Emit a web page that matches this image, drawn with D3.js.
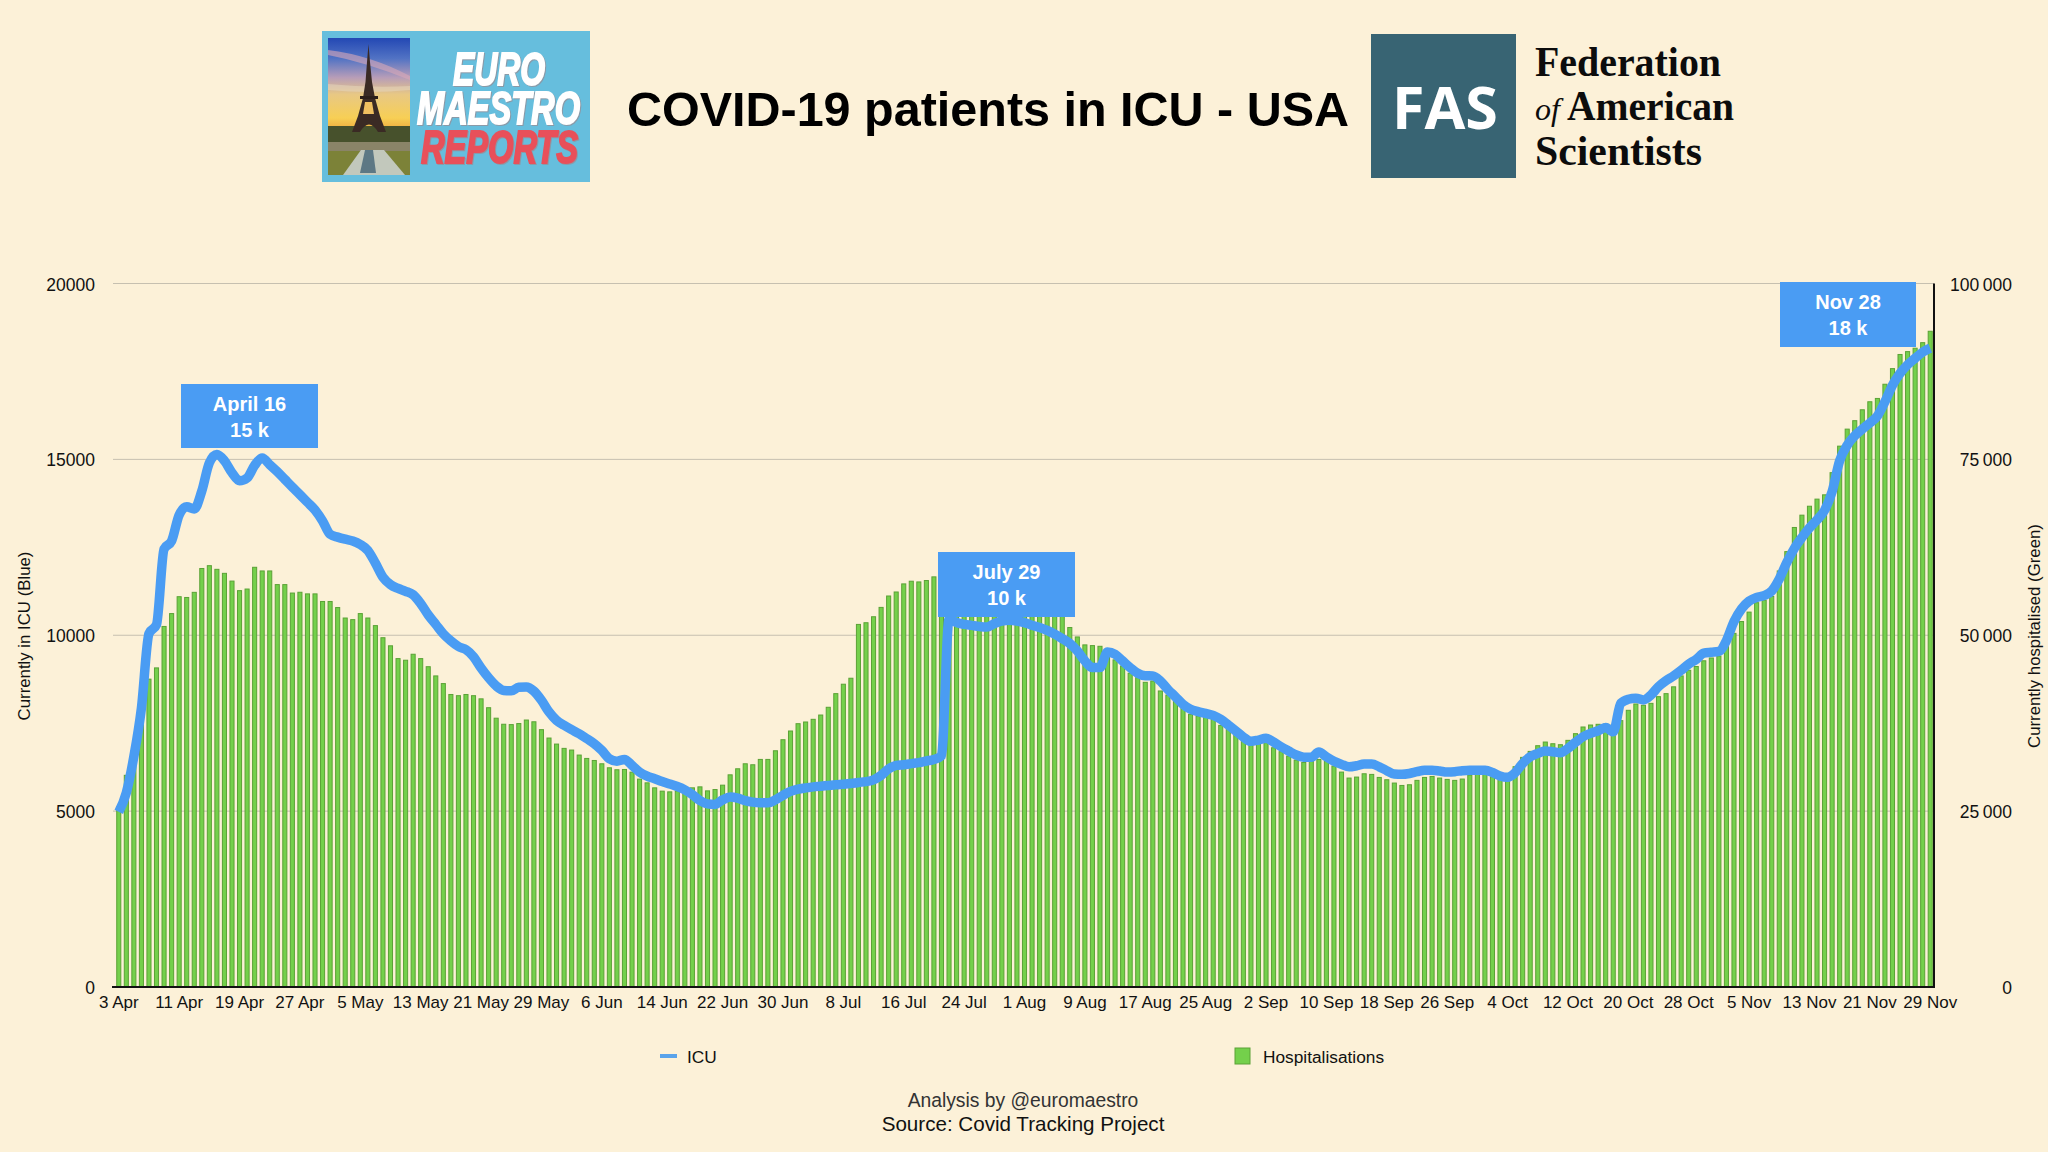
<!DOCTYPE html>
<html>
<head>
<meta charset="utf-8">
<title>COVID-19 patients in ICU - USA</title>
<script src="https://cdn.jsdelivr.net/npm/d3@7"></script>
<style>
  html, body { margin: 0; padding: 0; background: #fcf1d8; }
  svg { display: block; }
  text { font-family: "Liberation Sans", Arial, sans-serif; }
  .axis path, .axis line { display: none; }
  .axis text { font-family: "Liberation Sans", Arial, sans-serif; font-size: 17px; fill: #111; }
  .axis.value text { font-size: 17.5px; }
</style>
</head>
<body>
<div id="chart"></div>
<script>
// one value per day, 3 Apr to 29 Nov
const hospitalisations = [
  25630,30090,34000,39500,43760,45360,51250,53080,55480,55370,
  56100,59490,59890,59370,58800,57700,56340,56570,59660,59140,
  59140,57200,57200,56000,56110,55880,55880,54800,54800,53940,
  52450,52220,53080,52450,51370,49650,48500,46680,46450,47300,
  46680,45530,44220,43130,41580,41410,41580,41410,40960,39700,
  38210,37350,37300,37450,37950,37700,36580,35390,34530,33920,
  33680,32970,32490,32200,31730,31160,30880,30920,30540,29550,
  29020,28310,27840,27740,27840,27930,28310,28450,27880,28070,
  28690,30160,31020,31730,31590,32350,32350,33580,35150,36390,
  37430,37670,38050,38660,39760,41700,43040,43890,51540,51780,
  52630,53960,55580,56150,57300,57680,57580,57780,58300,58600,
  59000,59300,59500,59200,58900,59000,58800,58400,57800,57000,
  56300,55800,55200,54800,54000,53000,51100,49760,48630,48530,
  48430,47000,46500,45640,44600,43980,43310,43500,42080,41500,
  40660,39700,38760,38520,38430,38140,37190,36860,35910,35200,
  34680,34580,34730,34010,33450,32830,32260,31920,32120,32350,
  32160,31400,30550,29700,29840,30310,30220,29790,29460,28990,
  28650,28750,29370,29790,29930,29700,29510,29370,29560,30130,
  30270,30360,29890,29650,29650,31310,32640,33490,34300,34820,
  34580,34440,35060,36010,36960,37240,37340,37380,37240,37860,
  39330,40230,40040,40320,41270,41700,42670,44220,45020,45560,
  46370,46770,47040,48590,50270,51950,53290,54630,54970,55510,
  59140,61890,65320,67070,68340,69350,69960,73110,76880,79300,
  80500,82050,83190,83660,85680,87900,89910,90320,90800,91590,93210
];
const icu = [
  4976,5525,6555,7930,10045,10300,12450,12680,13420,13650,
  13590,14100,14900,15136,14960,14620,14390,14470,14830,15040,
  14850,14650,14430,14210,14000,13780,13560,13250,12870,12790,
  12730,12680,12580,12410,12050,11650,11440,11330,11250,11150,
  10900,10580,10310,10040,9840,9680,9590,9390,9070,8790,
  8560,8430,8420,8520,8530,8410,8150,7820,7580,7440,
  7315,7200,7060,6915,6725,6490,6420,6470,6300,6110,
  5995,5920,5840,5770,5700,5605,5470,5300,5205,5190,
  5320,5400,5370,5300,5255,5235,5235,5320,5450,5560,
  5625,5660,5690,5710,5730,5750,5765,5785,5815,5840,
  5890,6015,6200,6300,6320,6350,6380,6425,6470,6570,
  10456,10360,10310,10280,10250,10235,10330,10405,10425,10405,
  10360,10285,10220,10140,10030,9905,9765,9555,9270,9080,
  9080,9525,9460,9270,9080,8920,8850,8845,8700,8460,
  8250,8035,7895,7830,7780,7720,7610,7450,7280,7105,
  6985,7020,7070,6965,6830,6710,6595,6535,6530,6680,
  6545,6420,6330,6260,6290,6340,6340,6260,6150,6055,
  6045,6070,6120,6165,6165,6140,6110,6120,6150,6165,
  6165,6160,6100,6000,5960,6090,6355,6545,6640,6710,
  6690,6660,6785,6955,7115,7210,7285,7380,7255,8065,
  8180,8210,8160,8300,8540,8710,8845,9005,9180,9315,
  9490,9515,9540,9850,10390,10750,10970,11075,11130,11260,
  11600,12070,12470,12780,13050,13280,13550,14085,14960,15400,
  15670,15860,16035,16235,16640,17110,17445,17690,17875,18050,18160
];
const dateLabels = ["3 Apr","11 Apr","19 Apr","27 Apr","5 May","13 May","21 May","29 May","6 Jun","14 Jun","22 Jun","30 Jun","8 Jul","16 Jul","24 Jul","1 Aug","9 Aug","17 Aug","25 Aug","2 Sep","10 Sep","18 Sep","26 Sep","4 Oct","12 Oct","20 Oct","28 Oct","5 Nov","13 Nov","21 Nov","29 Nov"];
const labelEvery = 8;
const icuTicks = [0, 5000, 10000, 15000, 20000];
const hospTicks = [0, 25000, 50000, 75000, 100000];
const calloutDates = ["April 16", "July 29", "Nov 28"];
const calloutValues = ["15 k", "10 k", "18 k"];

const width = 2048, height = 1152;
const margin = { top: 283.5, right: 114, bottom: 165, left: 115 };
const blue = "#4a9cf3", green = "#74d04b", greenEdge = "#5ba236";

const svg = d3.select("#chart").append("svg")
    .attr("width", width)
    .attr("height", height);

svg.append("rect").attr("width", width).attr("height", height).attr("fill", "#fcf1d8");

const days = d3.range(hospitalisations.length);

const x = d3.scaleBand()
    .domain(days)
    .range([margin.left, width - margin.right])
    .paddingInner(0.46)
    .paddingOuter(0.23);

const yIcu = d3.scaleLinear().domain([0, 20000]).range([height - margin.bottom, margin.top]);
const yHosp = d3.scaleLinear().domain([0, 100000]).range([height - margin.bottom, margin.top]);

// Gridlines
svg.append("g").selectAll("line")
    .data(icuTicks.slice(1))
    .enter().append("line")
    .attr("x1", margin.left - 2)
    .attr("x2", width - margin.right)
    .attr("y1", d => yIcu(d))
    .attr("y2", d => yIcu(d))
    .attr("stroke", "#c6c0b0")
    .attr("stroke-width", 1);

// Bars
svg.append("g").selectAll("rect")
    .data(hospitalisations)
    .enter().append("rect")
    .attr("x", (d, i) => x(i))
    .attr("y", d => yHosp(d))
    .attr("width", x.bandwidth())
    .attr("height", d => yHosp(0) - yHosp(d))
    .attr("fill", green)
    .attr("stroke", greenEdge)
    .attr("stroke-width", 1);

// ICU line
const line = d3.line()
    .x((d, i) => x(i) + x.bandwidth() / 2)
    .y(d => yIcu(d))
    .curve(d3.curveMonotoneX);

svg.append("path")
    .datum(icu)
    .attr("d", line)
    .attr("fill", "none")
    .attr("stroke", blue)
    .attr("stroke-width", 9.5)
    .attr("stroke-linejoin", "round");

// Axes
svg.append("g")
    .attr("class", "axis value")
    .attr("transform", `translate(${margin.left - 20},1)`)
    .call(d3.axisLeft(yIcu).tickValues(icuTicks).tickSize(0).tickPadding(0).tickFormat(d3.format("d")));

svg.append("g")
    .attr("class", "axis value")
    .attr("transform", `translate(${width - 36},1)`)
    .call(d3.axisLeft(yHosp).tickValues(hospTicks).tickSize(0).tickPadding(0)
        .tickFormat(d => d3.format(",")(d).replace(",", "\u2009")));

svg.append("g")
    .attr("class", "axis")
    .attr("transform", `translate(0,${height - margin.bottom})`)
    .call(d3.axisBottom(x)
        .tickValues(days.filter(d => d % labelEvery === 0))
        .tickSize(0)
        .tickPadding(9)
        .tickFormat(d => dateLabels[d / labelEvery]));

svg.append("line")
    .attr("x1", margin.left - 3).attr("x2", width - margin.right + 1)
    .attr("y1", yIcu(0)).attr("y2", yIcu(0))
    .attr("stroke", "#111").attr("stroke-width", 2);

svg.append("line")
    .attr("x1", width - margin.right).attr("x2", width - margin.right)
    .attr("y1", margin.top).attr("y2", yIcu(0))
    .attr("stroke", "#111").attr("stroke-width", 2);

// Axis titles
svg.append("text")
    .attr("transform", "translate(30,636) rotate(-90)")
    .attr("text-anchor", "middle")
    .style("font-size", "16.8px")
    .attr("fill", "#111")
    .text("Currently in ICU (Blue)");

svg.append("text")
    .attr("transform", "translate(2040,636) rotate(-90)")
    .attr("text-anchor", "middle")
    .style("font-size", "16.8px")
    .attr("fill", "#111")
    .text("Currently hospitalised (Green)");

// Callouts
const calloutBoxes = [
  { x: 181, y: 384, w: 137, h: 64 },
  { x: 938, y: 552, w: 137, h: 65 },
  { x: 1780, y: 282, w: 136, h: 65 }
];
const callouts = svg.append("g").selectAll("g")
    .data(calloutBoxes)
    .enter().append("g")
    .attr("transform", d => `translate(${d.x},${d.y})`);

callouts.append("rect")
    .attr("width", d => d.w)
    .attr("height", d => d.h)
    .attr("fill", blue);

callouts.append("text")
    .attr("x", d => d.w / 2)
    .attr("y", 27)
    .attr("text-anchor", "middle")
    .attr("fill", "#fff")
    .style("font-size", "20px")
    .style("font-weight", "bold")
    .text((d, i) => calloutDates[i]);

callouts.append("text")
    .attr("x", d => d.w / 2)
    .attr("y", 53)
    .attr("text-anchor", "middle")
    .attr("fill", "#fff")
    .style("font-size", "20px")
    .style("font-weight", "bold")
    .text((d, i) => calloutValues[i]);

// Legend
svg.append("line")
    .attr("x1", 660).attr("x2", 677).attr("y1", 1056).attr("y2", 1056)
    .attr("stroke", "#5aa3ea").attr("stroke-width", 4);
svg.append("text").attr("x", 687).attr("y", 1063)
    .style("font-size", "17.3px").attr("fill", "#111").text("ICU");
svg.append("rect")
    .attr("x", 1235).attr("y", 1048).attr("width", 15).attr("height", 16)
    .attr("fill", green).attr("stroke", greenEdge);
svg.append("text").attr("x", 1263).attr("y", 1063)
    .style("font-size", "17.3px").attr("fill", "#111").text("Hospitalisations");

// Footer
svg.append("text").attr("x", 1023).attr("y", 1107).attr("text-anchor", "middle")
    .style("font-size", "19.3px").attr("fill", "#333").text("Analysis by @euromaestro");
svg.append("text").attr("x", 1023).attr("y", 1131).attr("text-anchor", "middle")
    .style("font-size", "20.6px").attr("fill", "#111").text("Source: Covid Tracking Project");

// Title
svg.append("text").attr("x", 988).attr("y", 126).attr("text-anchor", "middle")
    .style("font-size", "48.5px").style("font-weight", "bold").attr("fill", "#000")
    .text("COVID-19 patients in ICU - USA");

drawEuroLogo();
drawFasLogo();

function drawEuroLogo() {
    const defs = svg.append("defs");
    const sky = defs.append("linearGradient").attr("id", "sky")
        .attr("x1", 0).attr("y1", 0).attr("x2", 0).attr("y2", 1);
    [[0, "#2348b4"], [0.22, "#5273c4"], [0.42, "#b79db8"], [0.6, "#e8c884"], [0.85, "#f7cf55"], [1, "#eda53a"]]
        .forEach(s => sky.append("stop").attr("offset", s[0]).attr("stop-color", s[1]));

    const g = svg.append("g");
    g.append("rect").attr("x", 322).attr("y", 31).attr("width", 268).attr("height", 151).attr("fill", "#66bedd");
    g.append("rect").attr("x", 328).attr("y", 38).attr("width", 82).attr("height", 94).attr("fill", "url(#sky)");
    // clouds
    g.append("path").attr("d", "M328 55 Q365 62 410 80 L410 76 Q370 55 328 50 Z").attr("fill", "#d9a9b8").attr("opacity", 0.6);
    g.append("path").attr("d", "M328 84 Q370 88 410 86 L410 90 Q370 94 328 90 Z").attr("fill", "#e7d9c0").attr("opacity", 0.5);
    // ground
    g.append("rect").attr("x", 328).attr("y", 126).attr("width", 82).attr("height", 16).attr("fill", "#47512c");
    g.append("rect").attr("x", 328).attr("y", 142).attr("width", 82).attr("height", 9).attr("fill", "#8a8468");
    g.append("rect").attr("x", 328).attr("y", 151).attr("width", 82).attr("height", 24).attr("fill", "#7c8238");
    g.append("path").attr("d", "M343 175 L361 150 L384 150 L405 175 Z").attr("fill", "#c2c8bc");
    g.append("path").attr("d", "M365 150 L360 173 L376 173 L373 150 Z").attr("fill", "#5d7884");
    // tower
    g.append("path")
        .attr("d", "M368.5 44 L370 62 L372 82 L375 98 L380 116 L386 132 L378 132 Q369 117 360 132 L352 132 L358 116 L363 98 L365.5 82 L367 62 Z")
        .attr("fill", "#3a2a24");
    g.append("rect").attr("x", 360).attr("y", 96).attr("width", 18).attr("height", 3).attr("fill", "#2c1f1a");
    g.append("path").attr("d", "M365 102 L372 102 L374 114 L363 114 Z").attr("fill", "#f0c060");

    const words = [
      { t: "EURO", x: 453, y: 85, len: 92, fill: "#fff" },
      { t: "MAESTRO", x: 417, y: 124, len: 163, fill: "#fff" },
      { t: "REPORTS", x: 421, y: 163, len: 157, fill: "#e8505a" }
    ];
    words.forEach(w => {
        g.append("text")
            .attr("x", w.x).attr("y", w.y)
            .attr("textLength", w.len)
            .attr("lengthAdjust", "spacingAndGlyphs")
            .style("font-size", "47px")
            .style("font-weight", "bold")
            .style("font-style", "italic")
            .style("filter", "drop-shadow(1.5px 1.5px 0 #8a9aa8)")
            .attr("fill", w.fill)
            .attr("stroke", w.fill)
            .attr("stroke-width", 2)
            .text(w.t);
    });
}

function drawFasLogo() {
    const g = svg.append("g");
    g.append("rect").attr("x", 1371).attr("y", 34).attr("width", 145).attr("height", 144).attr("fill", "#386473");
    g.append("text").attr("x", 1392).attr("y", 129)
        .attr("textLength", 106).attr("lengthAdjust", "spacingAndGlyphs")
        .style("font-family", "'Open Sans', sans-serif")
        .style("font-size", "59px").style("font-weight", "bold").attr("fill", "#fff").text("FAS");

    const serif = "'Liberation Serif', serif";
    const rows = [
      { t: "Federation", x: 1535, y: 76, len: 186 },
      { t: "American", x: 1567, y: 120, len: 167 },
      { t: "Scientists", x: 1535, y: 165, len: 167 }
    ];
    rows.forEach(r => {
        g.append("text").attr("x", r.x).attr("y", r.y)
            .attr("textLength", r.len).attr("lengthAdjust", "spacingAndGlyphs")
            .style("font-family", serif).style("font-size", "42px").style("font-weight", "bold")
            .attr("fill", "#0c0c0c").text(r.t);
    });
    g.append("text").attr("x", 1535).attr("y", 120)
        .style("font-family", serif).style("font-size", "32px").style("font-style", "italic")
        .attr("fill", "#0c0c0c").text("of");
}
</script>
</body>
</html>
